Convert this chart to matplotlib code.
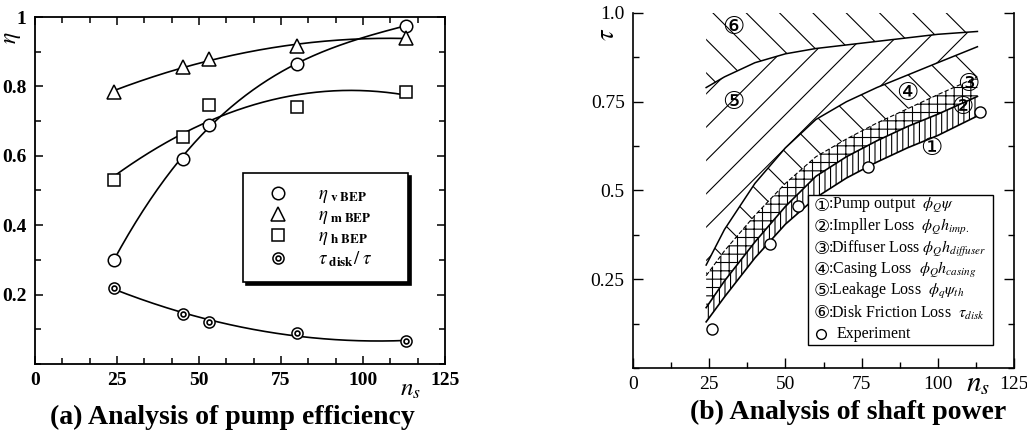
import numpy as np
import matplotlib
matplotlib.use("Agg")
import matplotlib.pyplot as plt
from matplotlib.patches import Rectangle
from matplotlib.ticker import MultipleLocator

plt.rcParams['font.family'] = ['Liberation Serif', 'DejaVu Sans']
plt.rcParams['mathtext.fontset'] = 'stix'
plt.rcParams['hatch.linewidth'] = 0.8

# ---------------- data: (a) pump efficiency ----------------
ns_a = [24, 45, 53, 80, 113]
eta_v = [0.30, 0.59, 0.69, 0.865, 0.975]
eta_m = [0.785, 0.855, 0.88, 0.915, 0.94]
eta_h = [0.53, 0.655, 0.745, 0.74, 0.785]
tau_ratio = [0.22, 0.145, 0.12, 0.09, 0.065]

# ---------------- data: (b) shaft power (cumulative boundaries) ----------------
ns_b = [24, 30, 40, 50, 60, 70, 80, 90, 100, 113]
b_pump = [0.13, 0.20, 0.31, 0.405, 0.48, 0.535, 0.58, 0.62, 0.655, 0.71]
b_imp = [0.17, 0.245, 0.355, 0.455, 0.54, 0.595, 0.64, 0.68, 0.715, 0.765]
b_diff = [0.26, 0.33, 0.43, 0.52, 0.595, 0.645, 0.69, 0.73, 0.77, 0.82]
b_casing = [0.29, 0.39, 0.52, 0.62, 0.70, 0.75, 0.79, 0.825, 0.86, 0.905]
b_leak = [0.79, 0.82, 0.86, 0.885, 0.90, 0.91, 0.92, 0.93, 0.94, 0.948]
b_disk = [1.0, 1.0, 1.0, 1.0, 1.0, 1.0, 1.0, 1.0, 1.0, 1.0]
ns_exp = [26, 45, 54, 77, 114]
tau_exp = [0.11, 0.35, 0.455, 0.565, 0.72]

legend_nums = ['\u2460', '\u2461', '\u2462', '\u2463', '\u2464', '\u2465']
legend_texts = [':Pump output  $\\phi_Q\\psi$',
                ':Impller Loss  $\\phi_Q h_{imp.}$',
                ':Diffuser Loss $\\phi_Q h_{diffuser}$',
                ':Casing Loss  $\\phi_Q h_{casing}$',
                ':Leakage Loss  $\\phi_q \\psi_{th}$',
                ':Disk Friction Loss  $\\tau_{disk}$']
legend_exp = 'Experiment'

fig = plt.figure(figsize=(10.27, 4.44), dpi=100)

# ================= (a) =================
ax = fig.add_axes([35/1027, 1-364/444, 410/1027, 347/444])
ax.set_xlim(0, 125)
ax.set_ylim(0, 1)

xs = np.linspace(ns_a[0], ns_a[-1], 200)
fits = [(eta_v, 3), (eta_m, 2), (eta_h, 2), (tau_ratio, 2)]
for vals, deg in fits:
    c = np.polyfit(ns_a, vals, deg)
    ax.plot(xs, np.polyval(c, xs), color='k', lw=1.2, zorder=2)

ms = 9
h1, = ax.plot(ns_a, eta_v, 'o', ms=ms, mfc='white', mec='k', mew=1.1, ls='none', zorder=3)
h2, = ax.plot(ns_a, eta_m, '^', ms=ms+1, mfc='white', mec='k', mew=1.1, ls='none', zorder=3)
h3, = ax.plot(ns_a, eta_h, 's', ms=ms, mfc='white', mec='k', mew=1.1, ls='none', zorder=3)
h4a, = ax.plot(ns_a, tau_ratio, 'o', ms=8, mfc='white', mec='k', mew=1.1, ls='none', zorder=3)
h4b, = ax.plot(ns_a, tau_ratio, 'o', ms=3.5, mfc='white', mec='k', mew=1.2, ls='none', zorder=4)

ax.set_xticks([0, 25, 50, 75, 100, 125])
ax.xaxis.set_minor_locator(MultipleLocator(25/3))
ax.set_yticks([0.2, 0.4, 0.6, 0.8, 1.0])
ax.set_yticklabels(['0.2', '0.4', '0.6', '0.8', '1'])
ax.yaxis.set_minor_locator(MultipleLocator(0.1))
ax.tick_params(which='both', direction='in', top=True, right=True, width=1.1)
ax.tick_params(which='major', length=6, labelsize=14, pad=6)
ax.tick_params(which='minor', length=4)
for lab in ax.get_xticklabels() + ax.get_yticklabels():
    lab.set_fontweight('bold')
for s in ax.spines.values():
    s.set_linewidth(1.3)

ax.text(-0.055, 0.94, r'$\eta$', transform=ax.transAxes, rotation=90,
        fontsize=17, ha='center', va='center')
ax.text(0.915, -0.075, r'$\boldsymbol{n_s}$', transform=ax.transAxes,
        fontsize=18, ha='center', va='center')

leg = ax.legend([h1, h2, h3, (h4a, h4b)],
                [r'$\eta_{\ \mathbf{v\ BEP}}$', r'$\eta_{\ \mathbf{m\ BEP}}$',
                 r'$\eta_{\ \mathbf{h\ BEP}}$', r'$\tau_{\ \mathbf{disk}}/\ \tau$'],
                loc='upper left', bbox_to_anchor=(0.507, 0.257, 0.403, 0.293),
                mode='expand', fontsize=13.5,
                frameon=True, fancybox=False, edgecolor='k', borderpad=0.7,
                labelspacing=0.1, handletextpad=0.9, borderaxespad=0,
                shadow={'color': 'k', 'alpha': 1}, handlelength=2.4)
leg.get_frame().set_linewidth(1.2)
leg.get_frame().set_facecolor('white')

fig.text(232/1027, 1-417/444, '(a) Analysis of pump efficiency', fontsize=20,
         fontweight='bold', ha='center', va='center')

# ================= (b) =================
bx = fig.add_axes([633/1027, 1-368/444, 381/1027, 355/444])
bx.set_xlim(0, 125)
bx.set_ylim(0, 1.0)

layers = [(b_pump, b_imp, '|||'), (b_imp, b_diff, '++'), (b_diff, b_casing, '\\'),
          (b_casing, b_leak, '/'), (b_leak, b_disk, '\\')]
for lo, hi, hatch in layers:
    bx.fill_between(ns_b, lo, hi, facecolor='none', edgecolor='k', hatch=hatch,
                    lw=0, zorder=1)
for bnd, style, lw in [(b_pump, '-', 1.2), (b_imp, '-', 1.2), (b_diff, (0, (4, 2)), 0.8),
                       (b_casing, '-', 1.1), (b_leak, '-', 1.1)]:
    bx.plot(ns_b, bnd, color='k', ls=style, lw=lw, zorder=2)

bx.plot(ns_exp, tau_exp, 'o', ms=8, mfc='white', mec='k', mew=1.0,
        ls='none', zorder=3)

num_labels = [('\u2460', 98, 0.62), ('\u2461', 108, 0.735), ('\u2462', 110, 0.80),
              ('\u2463', 90, 0.775), ('\u2464', 33, 0.75), ('\u2465', 33, 0.96)]
for t, x, y in num_labels:
    bx.text(x, y, t, fontsize=18, ha='center', va='center', zorder=4,
            family=['DejaVu Sans'])

bx.set_xticks([0, 25, 50, 75, 100, 125])
bx.xaxis.set_minor_locator(MultipleLocator(12.5))
bx.set_yticks([0.25, 0.5, 0.75, 1.0])
bx.set_yticklabels(['0.25', '0.5', '0.75', '1.0'])
bx.yaxis.set_minor_locator(MultipleLocator(0.125))
bx.tick_params(which='both', direction='in', right=True, top=False, width=1.0)
bx.tick_params(which='major', length=7, labelsize=14, pad=6)
bx.tick_params(which='minor', length=4)
bx.spines['top'].set_visible(False)
for s in ['left', 'right', 'bottom']:
    bx.spines[s].set_linewidth(1.2)

bx.text(-0.065, 0.94, r'$\tau$', transform=bx.transAxes, rotation=90,
        fontsize=19, ha='center', va='center')
bx.text(0.905, -0.045, r'$n_s$', transform=bx.transAxes,
        fontsize=21, ha='center', va='center')

# custom legend box for (b)
lx0, lx1, ly0, ly1 = 0.459, 0.945, 0.065, 0.487
bx.add_patch(Rectangle((lx0, ly0), lx1 - lx0, ly1 - ly0, transform=bx.transAxes,
                       facecolor='white', edgecolor='k', lw=1.0, zorder=5))
row_h = (ly1 - ly0) / 7
for i, (n, t) in enumerate(zip(legend_nums, legend_texts)):
    yc = ly1 - row_h * (i + 0.5)
    bx.text(0.494, yc, n, transform=bx.transAxes, fontsize=13, ha='center',
            va='center', family=['DejaVu Sans'], zorder=6)
    bx.text(0.512, yc, t, transform=bx.transAxes, fontsize=11.5, ha='left',
            va='center', zorder=6)
yc = ly1 - row_h * 6.5
bx.plot([0.494], [yc], 'o', ms=7, mfc='white', mec='k', mew=1.0,
        transform=bx.transAxes, zorder=6, clip_on=False)
bx.text(0.535, yc, legend_exp, transform=bx.transAxes, fontsize=11.5, ha='left',
        va='center', zorder=6)

fig.text(848/1027, 1-412/444, '(b) Analysis of shaft power', fontsize=20,
         fontweight='bold', ha='center', va='center')

fig.savefig('out.png', dpi=100)
